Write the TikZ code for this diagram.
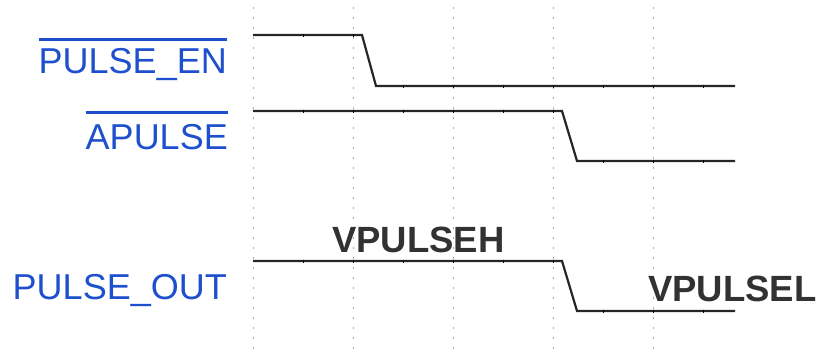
\documentclass[tikz,border=0pt]{standalone}
\usepackage{fontspec}
\setmainfont{Liberation Sans}
\definecolor{sigblue}{RGB}{30,80,205}
\definecolor{lvlgray}{RGB}{50,50,50}

\begin{document}
\begin{tikzpicture}[x=1pt,y=-1pt,
    sig/.style={line width=2.2pt,black!85,line join=miter},
    tick/.style={line width=0.9pt,black},
    grid line/.style={gray!65,line width=1pt,dash pattern=on 1.5pt off 8.5pt},
    signame/.style={text=sigblue,font=\fontsize{36}{40}\selectfont,inner sep=0pt,anchor=base east},
    level/.style={text=lvlgray,font=\fontsize{36.5}{40}\selectfont\bfseries,inner sep=0pt,anchor=base west},
    bar/.style={sigblue,line width=2.6pt}]
        \useasboundingbox (0,0) rectangle (820,354);
        % Grille
        \foreach \x in {253,353,...,653}
            \draw[grid line] (\x,7) -- (\x,354);
        % Noms des signaux
        \node[signame] (pen) at (227,73) {PULSE\_EN};
        \node[signame] (apulse) at (228,149) {APULSE};
        \node[signame] (pout) at (227,299) {PULSE\_OUT};
        % Barres (signaux actifs bas)
        \draw[bar] ([yshift=8pt]pen.north west) -- ([yshift=8pt]pen.north east);
        \draw[bar] ([yshift=11pt]apulse.north west) -- ([yshift=11pt]apulse.north east);
        % PULSE_EN
        \draw[sig] (253,35) -- (362,35) -- (376,86) -- (735,86);
        \foreach \x in {303,353} \draw[tick] (\x,33.5) -- (\x,36.5);
        \foreach \x in {403,453,...,703} \draw[tick] (\x,84.5) -- (\x,87.5);
        % APULSE
        \draw[sig] (253,111) -- (562,111) -- (577,161) -- (735,161);
        \foreach \x in {303,353,...,553} \draw[tick] (\x,109.5) -- (\x,112.5);
        \foreach \x in {603,653,703} \draw[tick] (\x,159.5) -- (\x,162.5);
        % PULSE_OUT
        \draw[sig] (253,261) -- (562,261) -- (577,311) -- (735,311);
        \foreach \x in {303,353,...,553} \draw[tick] (\x,259.5) -- (\x,262.5);
        \foreach \x in {603,653,703} \draw[tick] (\x,309.5) -- (\x,312.5);
        % Niveaux
        \node[level] (vh) at (332,252) {VPULSEH};
        \node[level] (vl) at (648,301) {VPULSEL};
\end{tikzpicture}
\end{document}
